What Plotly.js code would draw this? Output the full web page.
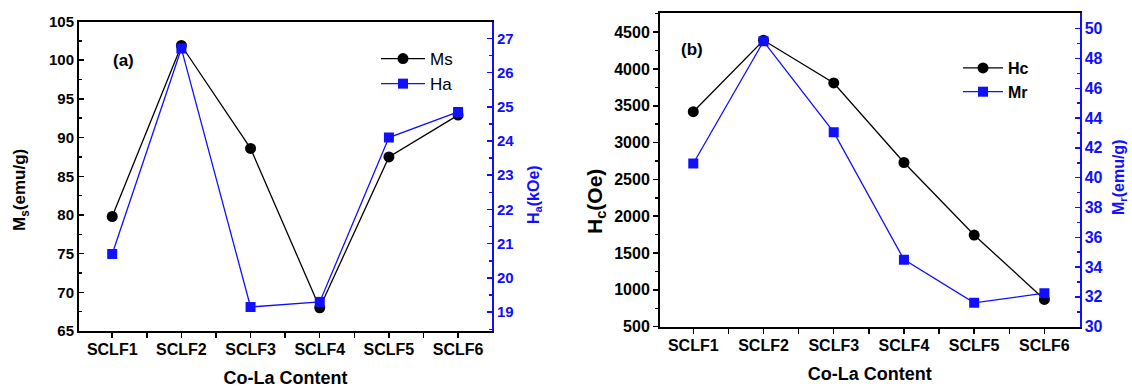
<!DOCTYPE html>
<html><head><meta charset="utf-8">
<script src="https://cdn.plot.ly/plotly-3.0.1.min.js"></script>
<style>html,body{margin:0;padding:0;background:#fff;} #chart{width:1132px;height:388px;}</style>
</head><body><div id="chart"></div>
<script>
const categories = ['SCLF1', 'SCLF2', 'SCLF3', 'SCLF4', 'SCLF5', 'SCLF6'];
const ms = [79.8, 101.9, 88.6, 68.0, 87.5, 92.9];      // emu/g, left axis (a)
const ha = [20.7, 26.7, 19.15, 19.3, 24.1, 24.85];     // kOe, right axis (a)
const hc = [3420, 4390, 3810, 2730, 1745, 870];         // Oe, left axis (b)
const mr = [40.95, 49.15, 43.05, 34.5, 31.6, 32.25];    // emu/g, right axis (b)
const xTitle = 'Co-La Content';
const yTitles = ['M<sub>s</sub>(emu/g)', 'H<sub>a</sub>(kOe)', 'H<sub>c</sub>(Oe)', 'M<sub>r</sub>(emu/g)'];

const idx = categories.map((c, i) => i);
const FONT = 'Liberation Sans, Arial, sans-serif';
const BLUE = '#1010ff';
const W = 1132, H = 388;

const traces = [
  {x: idx, y: ms, xaxis: 'x', yaxis: 'y', name: 'Ms', mode: 'lines+markers', legend: 'legend',
   line: {color: '#000', width: 1.3}, marker: {symbol: 'circle', size: 11, color: '#000'}},
  {x: idx, y: ha, xaxis: 'x', yaxis: 'y2', name: 'Ha', mode: 'lines+markers', legend: 'legend',
   line: {color: BLUE, width: 1.3}, marker: {symbol: 'square', size: 10, color: BLUE}},
  {x: idx, y: hc, xaxis: 'x2', yaxis: 'y3', name: 'Hc', mode: 'lines+markers', legend: 'legend2',
   line: {color: '#000', width: 1.3}, marker: {symbol: 'circle', size: 11, color: '#000'}},
  {x: idx, y: mr, xaxis: 'x2', yaxis: 'y4', name: 'Mr', mode: 'lines+markers', legend: 'legend2',
   line: {color: BLUE, width: 1.3}, marker: {symbol: 'square', size: 10, color: BLUE}}
];

function xax(domain, range, anchor) {
  return {
    domain: domain, range: range, anchor: anchor,
    tickmode: 'array', tickvals: idx, ticktext: categories,
    ticks: 'outside', ticklen: 5, tickwidth: 1.5, tickcolor: '#000',
    minor: {tickmode: 'array', tickvals: idx.slice(0, -1).map(v => v + 0.5), ticks: 'outside', ticklen: 5, tickwidth: 1.5, tickcolor: '#000'},
    showline: true, linewidth: 2, linecolor: '#000', mirror: true,
    showgrid: false, zeroline: false, ticklabelstandoff: -2,
    tickfont: {family: FONT, size: 16, weight: 'bold', color: '#000'},
    title: {text: xTitle, font: {family: FONT, size: 18, weight: 'bold', color: '#000'}, standoff: 14}
  };
}
function yax(opts) {
  return Object.assign({
    showgrid: false, zeroline: false, showline: true, linewidth: 2,
    tickwidth: 1.5, ticklen: 5, tick0: 0
  }, opts);
}
function ytitle(text, x, y, size, color) {
  return {xref: 'paper', yref: 'paper', x: x / W, y: 1 - y / H, text: text, textangle: -90,
    showarrow: false, xanchor: 'center', yanchor: 'middle',
    font: {family: FONT, size: size, weight: 'bold', color: color}};
}

const layout = {
  width: W, height: H, autosize: false,
  margin: {l: 0, r: 0, t: 0, b: 0},
  paper_bgcolor: '#fff', plot_bgcolor: 'rgba(0,0,0,0)',
  showlegend: true,
  xaxis: xax([79 / W, 492 / W], [-0.48, 5.49], 'y'),
  xaxis2: xax([660 / W, 1079.5 / W], [-0.474, 5.5], 'y3'),
  yaxis: yax({
    domain: [(H - 331) / H, (H - 21.5) / H], range: [65, 105], anchor: 'x',
    dtick: 5, ticks: 'inside', linecolor: '#000', tickcolor: '#000',
    minor: {dtick: 2.5, tick0: 0, ticks: 'inside', ticklen: 3, tickwidth: 1.5, tickcolor: '#000'},
    tickfont: {family: FONT, size: 15, weight: 'bold', color: '#000'}
  }),
  yaxis2: yax({
    overlaying: 'y', side: 'right', anchor: 'x',
    range: [18.45, 27.49], dtick: 1, ticks: 'inside', linecolor: BLUE, tickcolor: BLUE,
    minor: {dtick: 0.5, tick0: 0, ticks: 'inside', ticklen: 3, tickwidth: 1.5, tickcolor: BLUE},
    tickfont: {family: FONT, size: 15, weight: 'bold', color: BLUE}
  }),
  yaxis3: yax({
    domain: [(H - 326.7) / H, (H - 13) / H], range: [500, 4760], anchor: 'x2',
    dtick: 500, ticks: 'outside', linecolor: '#000', tickcolor: '#000',
    minor: {dtick: 250, tick0: 0, ticks: 'outside', ticklen: 3, tickwidth: 1.5, tickcolor: '#000'},
    tickfont: {family: FONT, size: 16, weight: 'bold', color: '#000'}
  }),
  yaxis4: yax({
    overlaying: 'y3', side: 'right', anchor: 'x2',
    range: [30, 51.05], dtick: 2, ticks: 'inside', linecolor: BLUE, tickcolor: BLUE,
    minor: {dtick: 1, tick0: 0, ticks: 'inside', ticklen: 3, tickwidth: 1.5, tickcolor: BLUE},
    tickfont: {family: FONT, size: 16, weight: 'bold', color: BLUE}
  }),
  legend: {
    x: 376 / W, y: 1 - 41 / H, xanchor: 'left', yanchor: 'top',
    bgcolor: 'rgba(0,0,0,0)', borderwidth: 0, itemwidth: 44,
    font: {family: FONT, size: 17, color: '#000'}
  },
  legend2: {
    x: 958 / W, y: 1 - 51 / H, xanchor: 'left', yanchor: 'top',
    bgcolor: 'rgba(0,0,0,0)', borderwidth: 0, itemwidth: 40,
    font: {family: FONT, size: 16, weight: 'bold', color: '#000'}
  },
  annotations: [
    {xref: 'paper', yref: 'paper', x: 123 / W, y: 1 - 60 / H, text: '(a)', showarrow: false,
     xanchor: 'center', yanchor: 'middle', font: {family: FONT, size: 17, weight: 'bold', color: '#000'}},
    {xref: 'paper', yref: 'paper', x: 692 / W, y: 1 - 49 / H, text: '(b)', showarrow: false,
     xanchor: 'center', yanchor: 'middle', font: {family: FONT, size: 17, weight: 'bold', color: '#000'}},
    ytitle(yTitles[0], 21, 190, 17, '#000'),
    ytitle(yTitles[1], 534, 195, 16, BLUE),
    ytitle(yTitles[2], 596, 202, 21, '#000'),
    ytitle(yTitles[3], 1120, 178, 16, BLUE)
  ]
};

Plotly.newPlot('chart', traces, layout, {displayModeBar: false, staticPlot: true});
</script>
</body></html>
